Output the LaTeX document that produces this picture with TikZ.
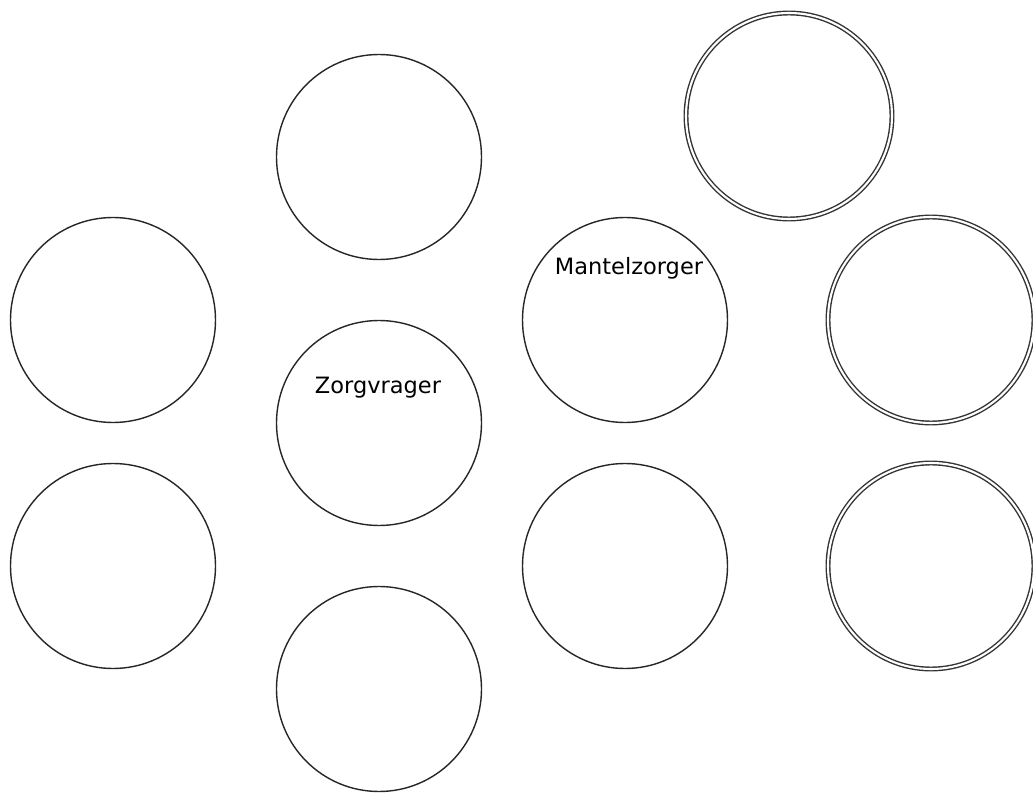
\documentclass[tikz,border=0pt]{standalone}
\usepackage{fontspec}
\setmainfont{DejaVu Sans}
\usetikzlibrary{positioning}

\begin{document}
\begin{tikzpicture}[
  c/.style={circle,draw=black!85,line width=0.8pt,minimum size=4.1cm,inner sep=0pt},
  cc/.style={circle,draw=black!80,double=white,double distance=1.2pt,line width=0.8pt,minimum size=4.12cm,inner sep=0pt},
  t/.style={font=\fontsize{12.8}{14}\selectfont,text=black,inner sep=1pt}]
\useasboundingbox (0,0) rectangle (20.66,-15.88);
\node[c] (top) at (7.58,-3.14) {};
\node[c] (lu) at (2.26,-6.40) {};
\node[c] (ll) at (2.26,-11.32) {};
\node[c] (zv) at (7.58,-8.46) {};
\node[c] (bot) at (7.58,-13.78) {};
\node[c] (mz) at (12.50,-6.40) {};
\node[c] (mzl) at (12.50,-11.32) {};
\node[cc] (rt) at (15.78,-2.32) {};
\node[cc] (rm) at (18.62,-6.40) {};
\node[cc] (rl) at (18.62,-11.32) {};
\node[t] (zvt) at (7.56,-7.76) {Zorgvrager};
\node[t] (mzt) at (12.58,-5.36) {Mantelzorger};
\end{tikzpicture}
\end{document}
